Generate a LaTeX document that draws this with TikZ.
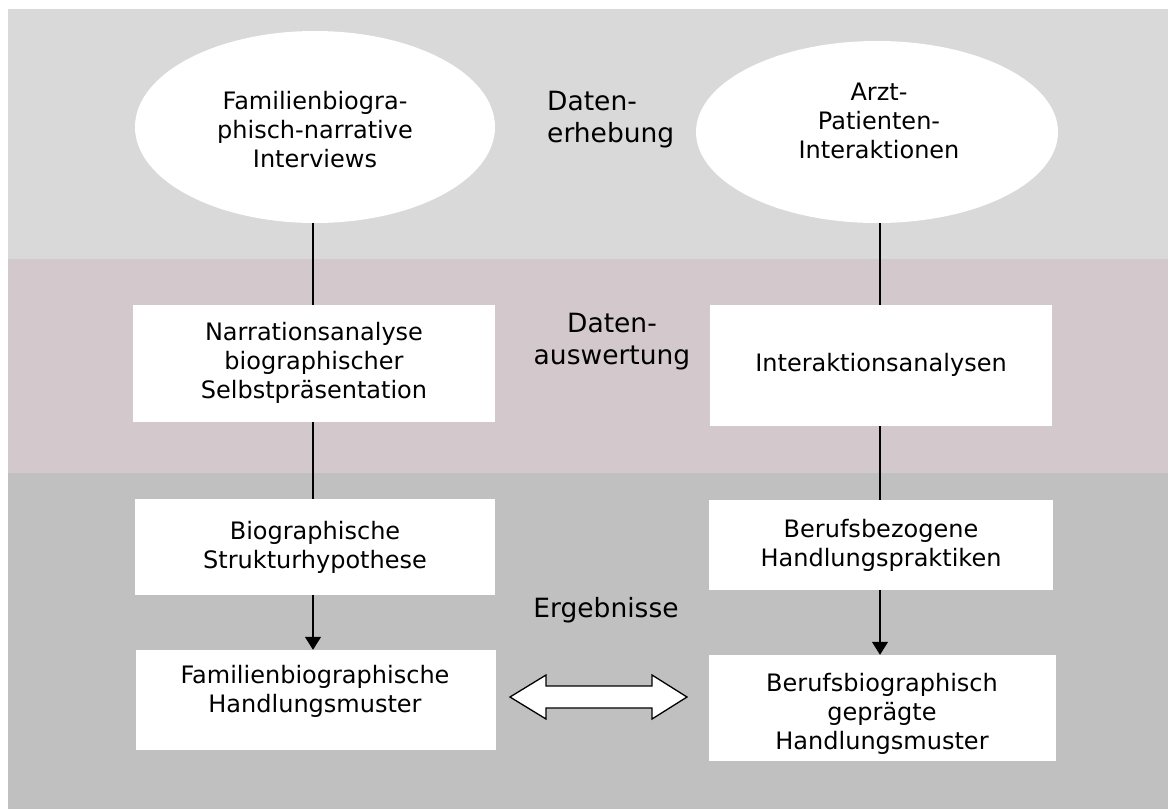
\documentclass[tikz,border=0pt]{standalone}
\usepackage{fontspec}
\setmainfont{DejaVu Sans}
\usetikzlibrary{shapes.geometric,arrows.meta,calc}
\definecolor{bandA}{HTML}{D9D9D9}
\definecolor{bandB}{HTML}{D3C9CC}
\definecolor{bandC}{HTML}{C0C0C0}
\tikzset{
  oval/.style={ellipse, fill=white, inner sep=0pt},
  boxnode/.style={rectangle, fill=white, inner sep=0pt},
  txt/.style={align=center, font=\fontsize{24}{29}\selectfont, inner sep=0pt},
  lbl/.style={font=\fontsize{26.5}{32}\selectfont, inner sep=0pt},
  conn/.style={draw=black, line width=1.3pt},
  arr/.style={conn, -{Triangle[width=16pt,length=13pt]}},
}
\begin{document}
\begin{tikzpicture}[x=1pt,y=-1pt]
\useasboundingbox (0,0) rectangle (1168,809);
\fill[white] (0,0) rectangle (1168,809);
% bands
\fill[bandA] (8,9) rectangle (1168,259);
\fill[bandB] (8,259) rectangle (1168,473);
\fill[bandC] (8,473) rectangle (1168,809);
% ellipses
\node[oval, minimum width=360pt, minimum height=192pt] (e1) at (315,127) {};
\node[txt] (t1) at (315,129.5) {Familienbiogra-\\phisch-narrative\\Interviews};
\node[oval, minimum width=362pt, minimum height=182pt] (e2) at (877,132) {};
\node[txt] (t2) at (879,121) {Arzt-\\Patienten-\\Interaktionen};
% left boxes
\node[boxnode, minimum width=362pt, minimum height=117pt] (l1) at (314,363.5) {};
\node[txt] (tl1) at (314,363) {Narrationsanalyse\\biographischer\\Selbstpräsentation};
\node[boxnode, minimum width=360pt, minimum height=96pt] (l2) at (315,547) {};
\node[txt] (tl2) at (315,547) {Biographische\\Strukturhypothese};
\node[boxnode, minimum width=360pt, minimum height=100pt] (l3) at (315.5,700) {};
\node[txt] (tl3) at (315,691) {Familienbiographische\\Handlungsmuster};
% right boxes
\node[boxnode, minimum width=342pt, minimum height=121pt] (r1) at (881,365.5) {};
\node[txt] (tr1) at (881,365) {Interaktionsanalysen};
\node[boxnode, minimum width=344pt, minimum height=90pt] (r2) at (881,545) {};
\node[txt] (tr2) at (881,545) {Berufsbezogene\\Handlungspraktiken};
\node[boxnode, minimum width=347pt, minimum height=106pt] (r3) at (882.5,708) {};
\node[txt] (tr3) at (882,714) {Berufsbiographisch\\geprägte\\Handlungsmuster};
% middle labels
\node[lbl, align=left, anchor=west] (m1) at (547,120) {Daten-\\erhebung};
\node[lbl, align=center] (m2) at (612,342) {Daten-\\auswertung};
\node[lbl] (m3) at (606,610) {Ergebnisse};
% connectors
\coordinate (lx) at (313,0);
\coordinate (rx) at (880,0);
\draw[conn] (e1.south -| lx) -- (l1.north -| lx);
\draw[conn] (l1.south -| lx) -- (l2.north -| lx);
\draw[arr] (l2.south -| lx) -- (l3.north -| lx);
\draw[conn] (e2.south -| rx) -- (r1.north -| rx);
\draw[conn] (r1.south -| rx) -- (r2.north -| rx);
\draw[arr] (r2.south -| rx) -- (r3.north -| rx);
% double block arrow
\coordinate (da) at (598.5,697);
\draw[line width=1.3pt, fill=white, line join=miter]
  ($(da)+(-88.5,0)$) -- ++(36,-22) -- ++(0,11) -- ++(106,0) -- ++(0,-11)
  -- ++(35,22) -- ++(-35,22) -- ++(0,-11) -- ++(-106,0) -- ++(0,11) -- cycle;
\end{tikzpicture}
\end{document}
